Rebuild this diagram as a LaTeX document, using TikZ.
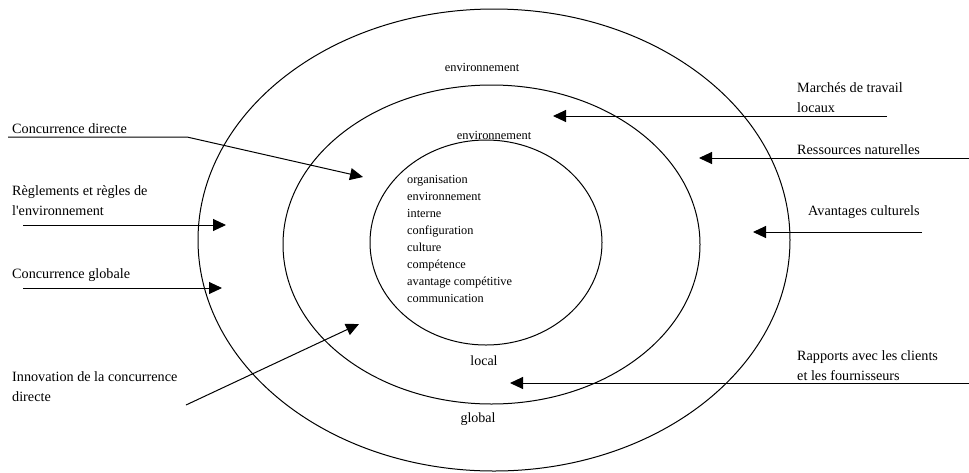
\documentclass[tikz,border=0pt]{standalone}
\usepackage{fontspec}
\setmainfont{Liberation Serif}
\newfontfamily\droit{Liberation Serif}
\usetikzlibrary{shapes.geometric, arrows.meta, positioning, calc}

\tikzset{
	fleche/.style={-{Triangle[length=13pt, width=12pt]}, line width=1pt},
	anneau/.style={draw, ellipse, line width=1pt, inner sep=0pt},
	etiquette/.style={anchor=base west, align=left, inner sep=0pt, font=\fontsize{14.2}{20}\selectfont},
	cercle/.style={inner sep=0pt, font=\fontsize{12.4}{15}\selectfont}
}

\begin{document}
\begin{tikzpicture}[x=1pt, y=-1pt]
		\useasboundingbox (0,0) rectangle (969,472);

		% les trois environnements
		\node[anneau, minimum width=592pt, minimum height=462pt] (global) at (494,240) {};
		\node[anneau, minimum width=417pt, minimum height=319pt] (local) at (491.5,244.5) {};
		\node[anneau, minimum width=232pt, minimum height=205pt] (interne) at (486,242.5) {};

		\node[cercle] (env global) at (482,67) {environnement};
		\node[cercle] (env local) at (494,135) {environnement};
		\node[cercle, anchor=base, font=\fontsize{14}{16}\selectfont] (nom local) at (484,365) {local};
		\node[cercle, anchor=base, font=\fontsize{14}{16}\selectfont] (nom global) at (478,422) {global};

		% base = derniere ligne
		\node[anchor=base west, align=left, inner sep=0pt, font=\fontsize{12.3}{17}\selectfont] (organisation) at (407,302) {organisation\\
			environnement\\
			interne\\
			configuration\\
			culture\\
			compétence\\
			avantage compétitive\\
			communication};

		% facteurs a gauche
		\node[etiquette] (concurrence directe) at (12,133) {Concurrence directe};
		\node[etiquette] (reglements) at (12,215) {Règlements et règles de\\
			l{\droit'}environnement};
		\node[etiquette] (concurrence globale) at (12,278) {Concurrence globale};
		\node[etiquette] (innovation) at (12,401) {Innovation de la concurrence\\
			directe};

		% facteurs a droite
		\node[etiquette] (marches) at (797,112) {Marchés de travail\\
			locaux};
		\node[etiquette] (ressources) at (797,154) {Ressources naturelles};
		\node[etiquette] (avantages) at (808,215) {Avantages culturels};
		\node[etiquette] (rapports) at (797,380) {Rapports avec les clients\\
			et les fournisseurs};

		\coordinate (cd debut) at (8,137);
		\coordinate (cd coude) at (187,137);
		\coordinate (cd fin) at (363,177);
		\coordinate (re debut) at (23,225);
		\coordinate (re fin) at (226,225);
		\coordinate (cg debut) at (23,288);
		\coordinate (cg fin) at (222,288);
		\coordinate (in debut) at (186,405);
		\coordinate (in fin) at (359,324);
		\coordinate (ma debut) at (887,116);
		\coordinate (ma fin) at (553,116);
		\coordinate (rn debut) at (969,158);
		\coordinate (rn fin) at (699,158);
		\coordinate (ac debut) at (922,232);
		\coordinate (ac fin) at (753,232);
		\coordinate (ra debut) at (969,383);
		\coordinate (ra fin) at (510,383);

		\draw[fleche] (cd debut) -- (cd coude) -- (cd fin);
		\draw[fleche] (re debut) -- (re fin);
		\draw[fleche] (cg debut) -- (cg fin);
		\draw[fleche] (in debut) -- (in fin);
		\draw[fleche] (ma debut) -- (ma fin);
		\draw[fleche] (rn debut) -- (rn fin);
		\draw[fleche] (ac debut) -- (ac fin);
		\draw[fleche] (ra debut) -- (ra fin);
	\end{tikzpicture}
\end{document}
